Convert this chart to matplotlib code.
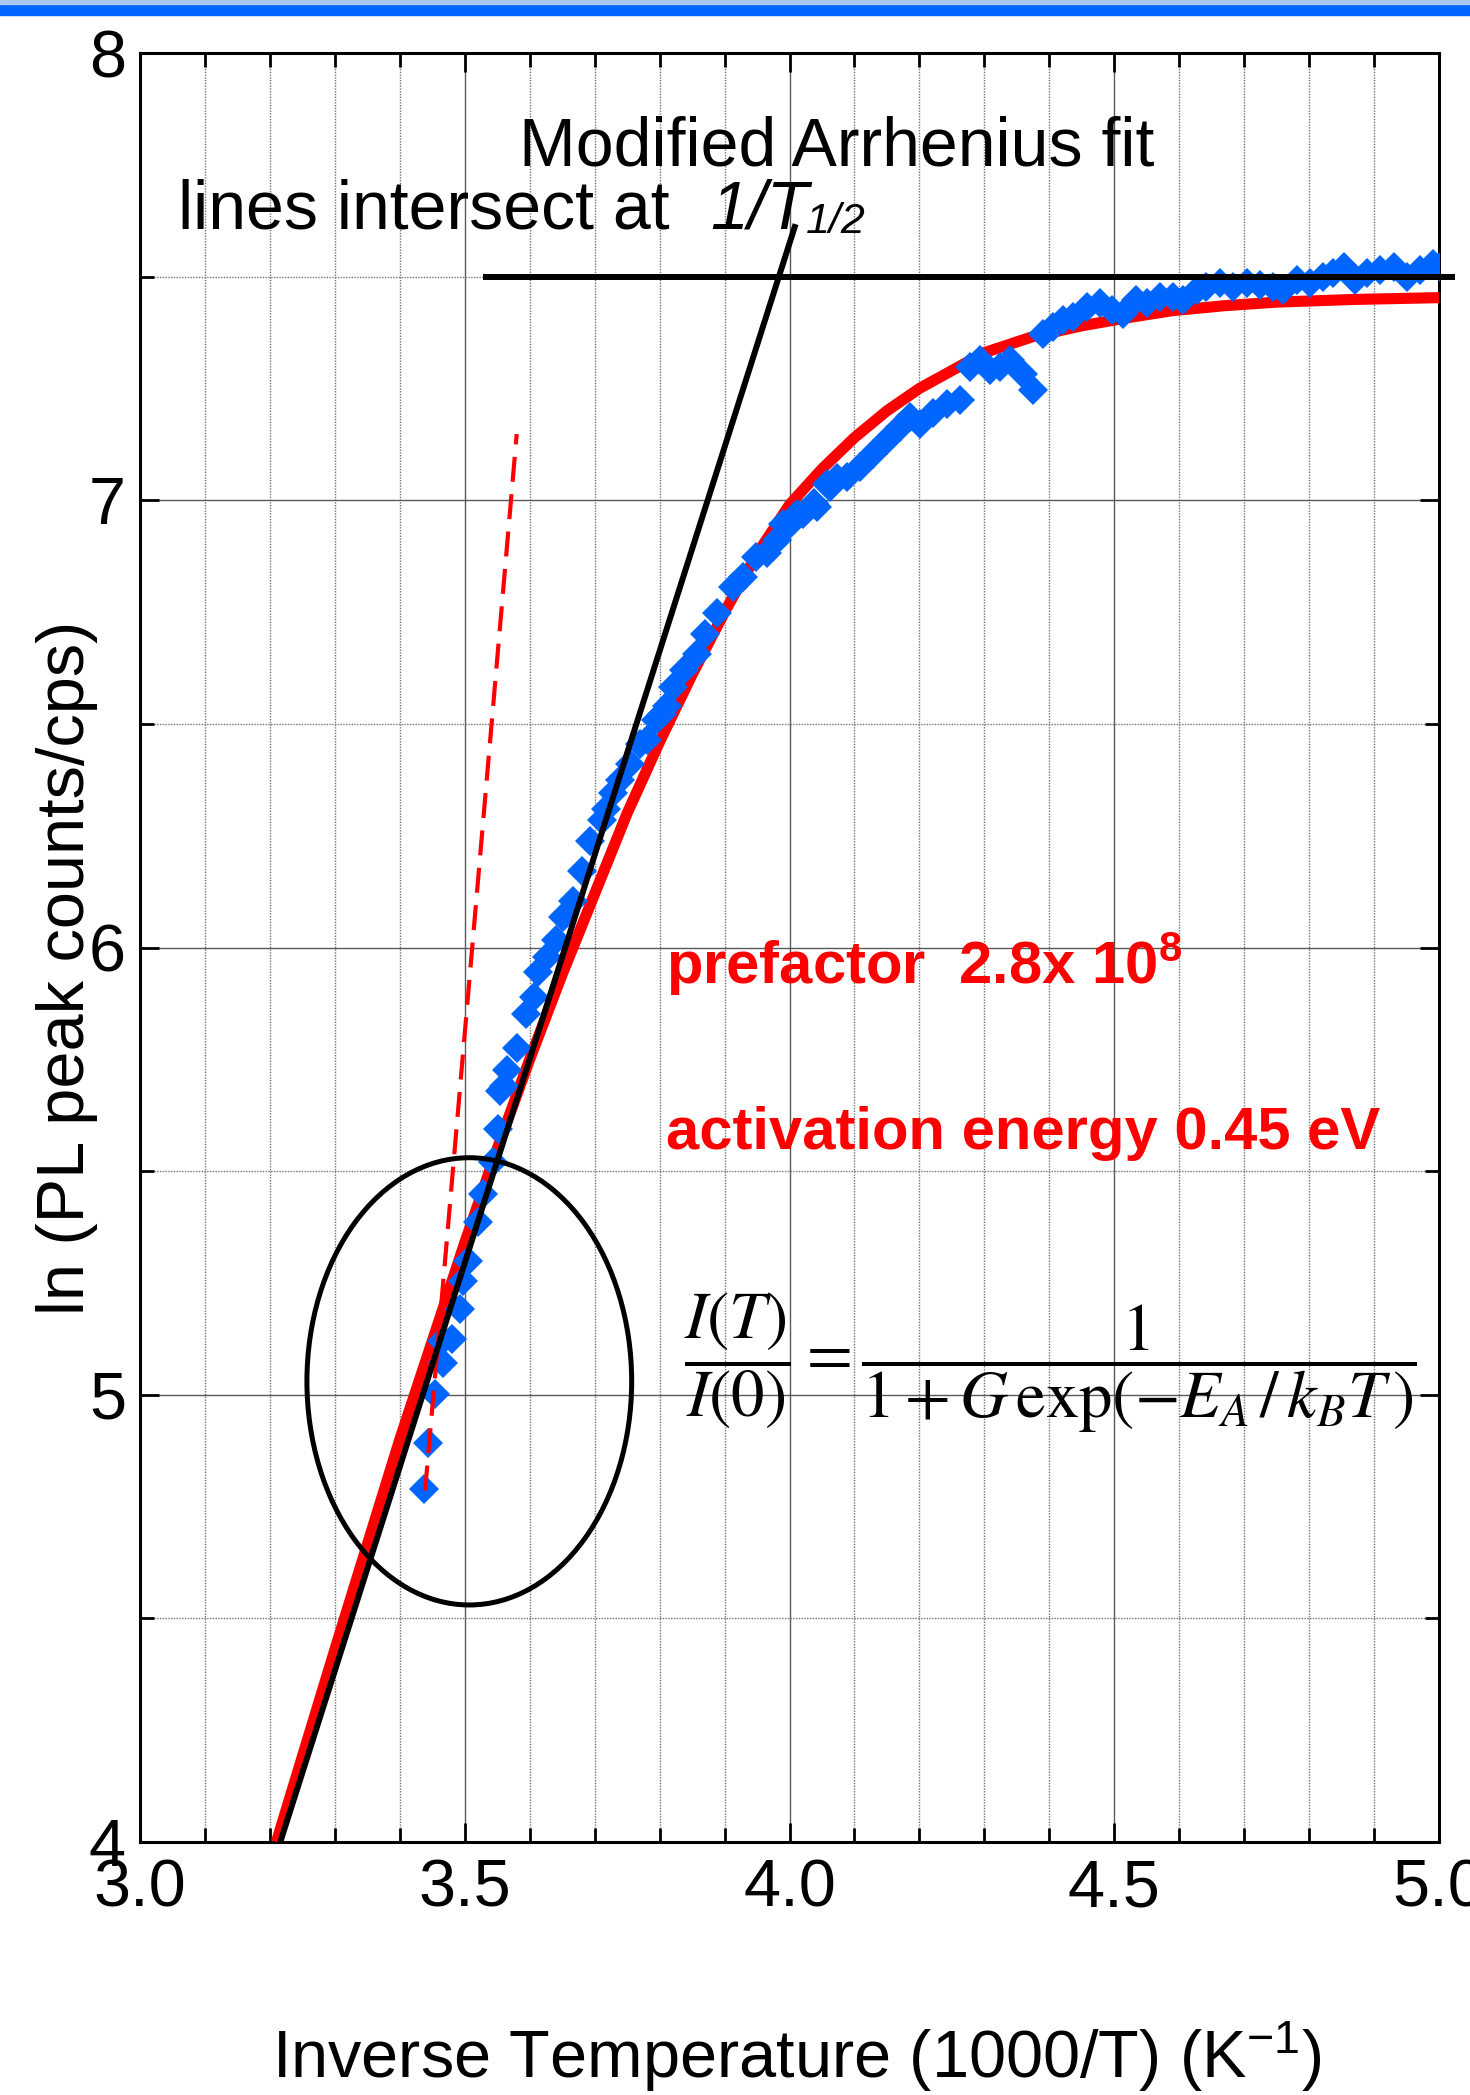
import numpy as np
import matplotlib
matplotlib.use("Agg")
import matplotlib.pyplot as plt
from matplotlib.patches import Ellipse, Rectangle
from matplotlib.ticker import MultipleLocator

plt.rcParams['font.family'] = ['Liberation Sans', 'DejaVu Sans']
plt.rcParams['mathtext.fontset'] = 'custom'
plt.rcParams['mathtext.rm'] = 'Liberation Sans'
plt.rcParams['mathtext.it'] = 'Liberation Sans:italic'
plt.rcParams['mathtext.bf'] = 'Liberation Sans:bold'

# measured PL peak, ln(counts/cps) vs 1000/T
inv_temp = [3.438, 3.444, 3.454, 3.467, 3.465, 3.480, 3.493, 3.498, 3.505, 3.521,
            3.528, 3.544, 3.551, 3.554, 3.560, 3.565, 3.580, 3.595, 3.606, 3.613,
            3.626, 3.641, 3.652, 3.667, 3.680, 3.693, 3.711, 3.718, 3.728, 3.739,
            3.754, 3.770, 3.780, 3.795, 3.803, 3.811, 3.821, 3.837, 3.857, 3.870,
            3.888, 3.913, 3.929, 3.949, 3.965, 3.980, 3.990, 4.001, 4.011, 4.021,
            4.037, 4.042, 4.057, 4.062, 4.073, 4.088, 4.109, 4.129, 4.150, 4.170,
            4.185, 4.201, 4.221, 4.242, 4.263, 4.278, 4.293, 4.309, 4.324, 4.339,
            4.360, 4.375, 4.391, 4.406, 4.421, 4.437, 4.458, 4.478, 4.496, 4.514,
            4.534, 4.550, 4.570, 4.591, 4.606, 4.627, 4.642, 4.663, 4.683, 4.704,
            4.724, 4.745, 4.760, 4.781, 4.801, 4.822, 4.837, 4.853, 4.871, 4.889,
            4.909, 4.930, 4.950, 4.971, 4.991, 5.001]
ln_counts = [4.789, 4.893, 5.001, 5.072, 5.120, 5.125, 5.192, 5.255, 5.300, 5.386,
             5.449, 5.520, 5.594, 5.680, 5.690, 5.725, 5.775, 5.852, 5.889, 5.945,
             5.978, 6.016, 6.068, 6.105, 6.172, 6.239, 6.284, 6.310, 6.345, 6.374,
             6.411, 6.456, 6.463, 6.508, 6.523, 6.540, 6.583, 6.620, 6.657, 6.702,
             6.747, 6.807, 6.829, 6.874, 6.881, 6.911, 6.948, 6.948, 6.970, 6.970,
             6.993, 6.985, 7.037, 7.030, 7.050, 7.052, 7.075, 7.104, 7.134, 7.164,
             7.186, 7.171, 7.194, 7.216, 7.224, 7.298, 7.313, 7.291, 7.298, 7.313,
             7.283, 7.246, 7.372, 7.387, 7.402, 7.410, 7.432, 7.440, 7.425, 7.417,
             7.447, 7.440, 7.454, 7.454, 7.447, 7.470, 7.477, 7.485, 7.477, 7.485,
             7.481, 7.477, 7.470, 7.492, 7.485, 7.499, 7.507, 7.522, 7.492, 7.507,
             7.514, 7.522, 7.499, 7.514, 7.529, 7.522]

# modified Arrhenius fit curve
fit_x = [3.21, 3.30, 3.40, 3.45, 3.50, 3.55, 3.60, 3.65, 3.70, 3.75, 3.80, 3.85,
         3.90, 3.95, 4.00, 4.05, 4.10, 4.15, 4.20, 4.25, 4.30, 4.375, 4.45, 4.52,
         4.59, 4.67, 4.75, 4.87, 5.00]
fit_y = [4.00, 4.43, 4.90, 5.12, 5.34, 5.55, 5.75, 5.94, 6.12, 6.30, 6.46, 6.61,
         6.75, 6.88, 6.99, 7.07, 7.14, 7.20, 7.25, 7.29, 7.33, 7.366, 7.39, 7.408,
         7.424, 7.435, 7.443, 7.449, 7.453]

# straight lines whose crossing gives 1/T_1/2
steep_x = [3.216, 4.008]
steep_y = [4.0, 7.611]
flat_x = [3.532, 5.02]
flat_y = [7.499, 7.499]
# steepest slope of the low temperature points
dash_x = [3.439, 3.580]
dash_y = [4.786, 7.148]

fig = plt.figure(figsize=(14.7, 20.95), dpi=100)
ax = fig.add_axes([0.09524, 0.12076, 0.88367, 0.85394])

# blue strip across the top
fig.patches.append(Rectangle((0, 1 - 15 / 2095), 1, 11 / 2095, transform=fig.transFigure,
                             color='#0066FF', zorder=0))
fig.patches.append(Rectangle((0, 1 - 4 / 2095), 1, 4 / 2095, transform=fig.transFigure,
                             color='#a9c9f2', zorder=0))

ax.plot(fit_x, fit_y, color='#ff0000', lw=8, solid_joinstyle='round',
        solid_capstyle='butt', zorder=3)
ax.plot(inv_temp, ln_counts, 'D', color='#0066ff', ms=15, mew=0, zorder=4)
ax.plot(dash_x, dash_y, color='#ff0000', lw=3, linestyle=(0, (6, 3)), zorder=5)
ax.plot(steep_x, steep_y, color='black', lw=4.3, zorder=6)
ax.plot(flat_x, flat_y, color='black', lw=4.3, zorder=6, clip_on=False)
ax.add_patch(Ellipse((3.507, 5.03), 0.5, 1.0, fill=False, edgecolor='black',
                     lw=3.6, zorder=6))

ax.set_xlim(3.0, 5.0)
ax.set_ylim(4, 8)
ax.xaxis.set_major_locator(MultipleLocator(0.5))
ax.xaxis.set_minor_locator(MultipleLocator(0.1))
ax.yaxis.set_major_locator(MultipleLocator(1))
ax.yaxis.set_minor_locator(MultipleLocator(0.5))
ax.set_xticks([3.0, 3.5, 4.0, 4.5, 5.0])
ax.set_xticklabels(['3.0', '3.5', '4.0', '4.5', '5.0'])
ax.set_yticks([4, 5, 6, 7, 8])
ax.set_yticklabels(['4', '5', '6', '7', '8'])

ax.grid(True, which='major', color='0.35', lw=1.0, zorder=0)
ax.grid(True, which='minor', color='0.45', lw=1.0, linestyle=(0, (1, 1)), zorder=0)
ax.set_axisbelow(True)

ax.tick_params(which='both', direction='in', top=True, right=True, width=2,
               colors='black', labelsize=48)
ax.tick_params(which='major', length=14)
ax.tick_params(which='minor', length=10)
ax.tick_params(axis='x', pad=12)
ax.tick_params(axis='y', pad=10)
for s in ax.spines.values():
    s.set_linewidth(2.2)

fig.text(67 / 1470, 1 - 968 / 2095, 'ln (PL peak counts/cps)', rotation=90,
         ha='center', va='center', fontsize=48)
fig.text(797 / 1470, 1 - 2057 / 2095, r'Inverse Temperature (1000/T) (K$^{\mathrm{-1}}$)',
         ha='center', va='center', fontsize=48)

ax.text(3.584, 7.749, 'Modified Arrhenius fit', fontsize=49, ha='left', va='baseline')
ax.text(3.0585, 7.6085, 'lines intersect at', fontsize=49, ha='left', va='baseline')
ax.text(3.8785, 7.6085, '1/T', fontsize=49, style='italic', ha='left', va='baseline')
ax.text(4.0254, 7.597, '1/2', fontsize=31, style='italic', ha='left', va='baseline')

ax.text(3.81, 5.919, r'prefactor  2.8x 10$^{\mathbf{8}}$', color='#ff0000',
        fontsize=43, fontweight='bold', ha='left', va='baseline')
ax.text(3.81, 5.550, 'activation energy 0.45 eV', color='#ff0000',
        fontsize=43, fontweight='bold', ha='left', va='baseline')

ax.text(3.838, 5.072, r'$\dfrac{I(T)}{I(0)}=\dfrac{1}{1+G\,\exp(-E_A\,/\,k_BT\,)}$',
        fontsize=48, math_fontfamily='stix', ha='left', va='center')

fig.savefig('out.png', dpi=100)
